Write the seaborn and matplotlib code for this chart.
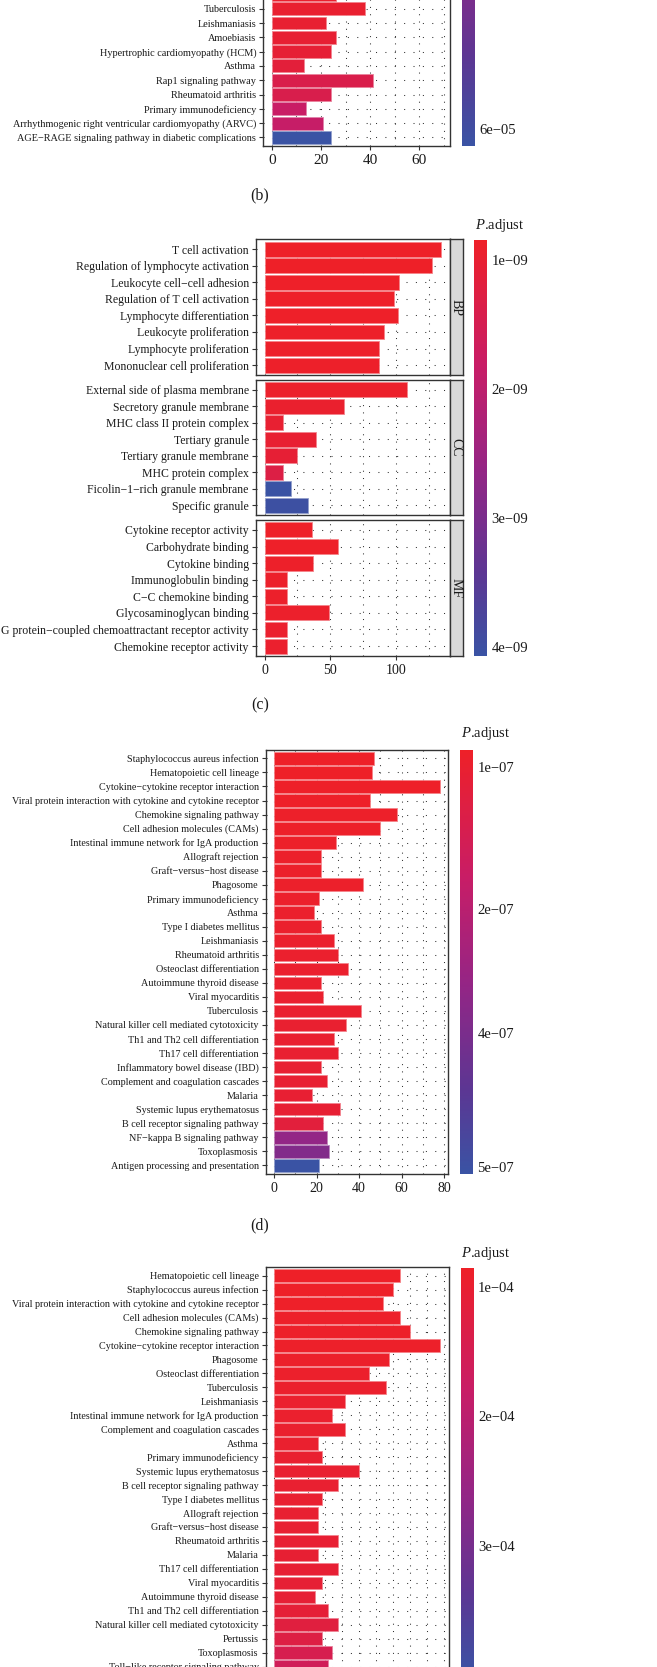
import numpy as np
import pandas as pd
import matplotlib
matplotlib.use("Agg")
import matplotlib.pyplot as plt
import seaborn as sns
from matplotlib.colors import LinearSegmentedColormap, Normalize, to_rgb
from matplotlib.ticker import MultipleLocator
import matplotlib.cm as cm

# ---------------- data ----------------
# panel (b) (top of panel clipped in the reference)
b_terms = ["Chemokine signaling pathway", "Tuberculosis", "Leishmaniasis", "Amoebiasis",
           "Hypertrophic cardiomyopathy (HCM)", "Asthma", "Rap1 signaling pathway",
           "Rheumatoid arthritis", "Primary immunodeficiency",
           "Arrhythmogenic right ventricular cardiomyopathy (ARVC)",
           "AGE\u2212RAGE signaling pathway in diabetic complications"]
b_counts = [26, 38, 22, 26, 24, 13, 41, 24, 14, 21, 24]
b_padj = [3.0e-6, 3.5e-6, 4.0e-6, 4.5e-6, 5.0e-6, 6.5e-6, 1.15e-5, 1.2e-5, 1.9e-5, 2.0e-5, 6.23e-5]
b_padj_limits = (1.0e-6, 6.23e-5)
b_count_max = 69
b_cbar_ticks = [6e-5]
b_cbar_labels = ["6e\u221205"]

# panel (c) GO enrichment
c_bp_terms = ["T cell activation", "Regulation of lymphocyte activation", "Leukocyte cell\u2212cell adhesion",
              "Regulation of T cell activation", "Lymphocyte differentiation", "Leukocyte proliferation",
              "Lymphocyte proliferation", "Mononuclear cell proliferation"]
c_bp_counts = [134, 127, 102, 98, 101, 91, 87, 87]
c_bp_padj = [8.45e-10, 8.5e-10, 8.6e-10, 8.7e-10, 8.7e-10, 8.8e-10, 8.9e-10, 8.9e-10]
c_cc_terms = ["External side of plasma membrane", "Secretory granule membrane", "MHC class II protein complex",
              "Tertiary granule", "Tertiary granule membrane", "MHC protein complex",
              "Ficolin\u22121\u2212rich granule membrane", "Specific granule"]
c_cc_counts = [108, 60, 14, 39, 25, 14, 20, 33]
c_cc_padj = [9.0e-10, 9.5e-10, 1.0e-9, 1.0e-9, 1.05e-9, 1.3e-9, 4.07e-9, 4.0e-9]
c_mf_terms = ["Cytokine receptor activity", "Carbohydrate binding", "Cytokine binding", "Immunoglobulin binding",
              "C\u2212C chemokine binding", "Glycosaminoglycan binding",
              "G protein\u2212coupled chemoattractant receptor activity", "Chemokine receptor activity"]
c_mf_counts = [36, 56, 37, 17, 17, 49, 17, 17]
c_mf_padj = [8.6e-10, 8.7e-10, 8.8e-10, 9.0e-10, 9.0e-10, 9.2e-10, 9.4e-10, 9.4e-10]
c_facets = ["BP", "CC", "MF"]
c_cbar_ticks = [1e-9, 2e-9, 3e-9, 4e-9]
c_cbar_labels = ["1e\u221209", "2e\u221209", "3e\u221209", "4e\u221209"]

# panel (d) KEGG enrichment
d_terms = ["Staphylococcus aureus infection", "Hematopoietic cell lineage",
           "Cytokine\u2212cytokine receptor interaction",
           "Viral protein interaction with cytokine and cytokine receptor", "Chemokine signaling pathway",
           "Cell adhesion molecules (CAMs)", "Intestinal immune network for IgA production",
           "Allograft rejection", "Graft\u2212versus\u2212host disease", "Phagosome", "Primary immunodeficiency",
           "Asthma", "Type I diabetes mellitus", "Leishmaniasis", "Rheumatoid arthritis",
           "Osteoclast differentiation", "Autoimmune thyroid disease", "Viral myocarditis", "Tuberculosis",
           "Natural killer cell mediated cytotoxicity", "Th1 and Th2 cell differentiation",
           "Th17 cell differentiation", "Inflammatory bowel disease (IBD)", "Complement and coagulation cascades",
           "Malaria", "Systemic lupus erythematosus", "B cell receptor signaling pathway",
           "NF\u2212kappa B signaling pathway", "Toxoplasmosis", "Antigen processing and presentation"]
d_counts = [47, 46, 78, 45, 58, 50, 29, 22, 22, 42, 21, 19, 22, 28, 30, 35, 22, 23, 41, 34,
            28, 30, 22, 25, 18, 31, 23, 25, 26, 21]
d_padj = [8.3e-8, 8.4e-8, 8.5e-8, 8.6e-8, 8.7e-8, 8.8e-8, 8.9e-8, 9.0e-8, 9.0e-8, 9.1e-8,
          9.2e-8, 9.3e-8, 9.3e-8, 9.4e-8, 9.5e-8, 9.6e-8, 9.7e-8, 9.8e-8, 9.9e-8, 1.0e-7,
          1.01e-7, 1.02e-7, 1.03e-7, 1.04e-7, 1.05e-7, 1.07e-7, 1.25e-7, 3.2e-7, 3.5e-7, 5.07e-7]
d_cbar_ticks = [1.0e-7, 1.72e-7, 2.42e-7, 3.13e-7, 3.66e-7, 5.0e-7]
d_cbar_labels = ["1e\u221207", "", "2e\u221207", "", "4e\u221207", "5e\u221207"]

# panel (e) (bottom of panel clipped in the reference)
e_terms = ["Hematopoietic cell lineage", "Staphylococcus aureus infection",
           "Viral protein interaction with cytokine and cytokine receptor", "Cell adhesion molecules (CAMs)",
           "Chemokine signaling pathway", "Cytokine\u2212cytokine receptor interaction", "Phagosome",
           "Osteoclast differentiation", "Tuberculosis", "Leishmaniasis",
           "Intestinal immune network for IgA production", "Complement and coagulation cascades", "Asthma",
           "Primary immunodeficiency", "Systemic lupus erythematosus", "B cell receptor signaling pathway",
           "Type I diabetes mellitus", "Allograft rejection", "Graft\u2212versus\u2212host disease",
           "Rheumatoid arthritis", "Malaria", "Th17 cell differentiation", "Viral myocarditis",
           "Autoimmune thyroid disease", "Th1 and Th2 cell differentiation",
           "Natural killer cell mediated cytotoxicity", "Pertussis", "Toxoplasmosis",
           "Toll\u2212like receptor signaling pathway"]
e_counts = [37, 35, 32, 37, 40, 49, 34, 28, 33, 21, 17, 21, 13, 14, 25, 19, 14, 13, 13, 19,
            13, 19, 14, 12, 16, 19, 14, 17, 16]
e_padj = [8.53e-5, 8.6e-5, 8.7e-5, 8.8e-5, 8.9e-5, 9.0e-5, 9.1e-5, 9.2e-5, 9.3e-5, 9.4e-5,
          9.5e-5, 9.6e-5, 9.7e-5, 9.8e-5, 9.9e-5, 1.0e-4, 1.0e-4, 1.01e-4, 1.01e-4, 1.02e-4,
          1.03e-4, 1.04e-4, 1.05e-4, 1.06e-4, 1.08e-4, 1.2e-4, 1.28e-4, 1.45e-4, 1.6e-4]
e_padj_limits = (8.53e-5, 4.0e-4)
e_cbar_ticks = [1e-4, 2e-4, 3e-4]
e_cbar_labels = ["1e\u221204", "2e\u221204", "3e\u221204"]

# ---------------- style ----------------
sns.set_theme(style="white")
plt.rcParams["font.family"] = ["Liberation Serif", "DejaVu Serif"]
plt.rcParams["mathtext.fontset"] = "custom"
plt.rcParams["mathtext.it"] = "Liberation Serif:italic"
plt.rcParams["mathtext.rm"] = "Liberation Serif"

CMAP = LinearSegmentedColormap.from_list(
    "padj", [(0.0, "#EE2028"), (0.3, "#C81D66"), (0.55, "#952585"), (0.8, "#5C3693"), (1.0, "#3A53A4")])
FRAME = "#333333"
TXT = "#1a1a1a"

W, H = 657, 1667
fig = plt.figure(figsize=(W / 100, H / 100), dpi=100)


def rect(x0, y0, x1, y1):
    return [x0 / W, 1 - y1 / H, (x1 - x0) / W, (y1 - y0) / H]


def lighten(c, f=0.45):
    r, g, b = to_rgb(c)
    return (r + (1 - r) * f, g + (1 - g) * f, b + (1 - b) * f)


def bar_panel(ax, terms, counts, padj, norm, xmax, major, minor, ysize, xsize,
              ylim=None, show_x=True):
    df = pd.DataFrame({"term": terms, "count": counts, "padj": padj})
    pal = {t: CMAP(norm(p)) for t, p in zip(terms, padj)}
    sns.barplot(data=df, x="count", y="term", hue="term", palette=pal, dodge=False,
                legend=False, width=0.9, saturation=1, orient="h", ax=ax)
    for p in ax.patches:
        p.set_edgecolor(lighten(p.get_facecolor()))
        p.set_linewidth(0.6)
    n = len(terms)
    ax.set_xlim(-0.05 * xmax, 1.05 * xmax)
    ax.set_ylim(ylim if ylim is not None else (n - 1 + 0.6, -0.6))
    ax.set_xlabel("")
    ax.set_ylabel("")
    ax.xaxis.set_major_locator(MultipleLocator(major))
    ax.xaxis.set_minor_locator(MultipleLocator(minor))
    ax.set_axisbelow(True)
    ax.grid(True, which="both", axis="x", linestyle=(0, (1, 6)), color="#333333", linewidth=0.75)
    ax.grid(True, which="major", axis="y", linestyle=(0, (1, 8)), color="#333333", linewidth=0.75)
    for s in ax.spines.values():
        s.set_color(FRAME)
        s.set_linewidth(1.0)
    ax.tick_params(axis="y", which="both", left=True, length=3, width=0.8, color=FRAME,
                   pad=2, labelsize=ysize, labelcolor=TXT)
    ax.tick_params(axis="x", which="minor", bottom=False)
    if show_x:
        ax.tick_params(axis="x", which="major", bottom=True, length=3, width=0.8, color=FRAME,
                       pad=3, labelsize=xsize, labelcolor=TXT)
    else:
        ax.tick_params(axis="x", which="major", bottom=False, labelbottom=False)


def colorbar(px, norm, ticks, labels, title_xy=None):
    cax = fig.add_axes(rect(*px))
    sm = cm.ScalarMappable(norm=norm, cmap=CMAP)
    cb = fig.colorbar(sm, cax=cax, orientation="vertical")
    cax.invert_yaxis()
    cb.outline.set_visible(False)
    cb.set_ticks(ticks)
    cb.set_ticklabels(labels)
    cb.minorticks_off()
    cax.tick_params(which="major", direction="in", color="white", length=3.5, width=0.9,
                    left=True, right=True, labelleft=False, labelright=True,
                    labelsize=10.5, labelcolor=TXT, pad=3)
    if title_xy is not None:
        fig.text(title_xy[0] / W, 1 - title_xy[1] / H, r"$P$.adjust", ha="left", va="center",
                 fontsize=10.5, color=TXT)


def panel_letter(txt, y):
    fig.text(260 / W, 1 - y / H, txt, ha="center", va="center", fontsize=11.5, color=TXT)


# ---------------- panel (b) ----------------
axb = fig.add_axes(rect(263.3, -300, 450, 146))
row_b = 14.3
n_b = len(b_terms)
b_ylim = (n_b - 1 + 0.6, n_b - 1 + 0.6 - (146 + 300) / row_b)
norm_b = Normalize(*b_padj_limits)
bar_panel(axb, b_terms, b_counts, b_padj, norm_b, b_count_max, 20, 10, 7.4, 11, ylim=b_ylim)
colorbar((462, -300, 475, 146), norm_b, b_cbar_ticks, b_cbar_labels)
panel_letter("(b)", 195)

# ---------------- panel (c) ----------------
norm_c = Normalize(min(c_bp_padj + c_cc_padj + c_mf_padj), max(c_bp_padj + c_cc_padj + c_mf_padj))
c_max = max(c_bp_counts + c_cc_counts + c_mf_counts)
c_rows = [(239.3, 375), (380, 515), (520, 656)]
c_data = [(c_bp_terms, c_bp_counts, c_bp_padj), (c_cc_terms, c_cc_counts, c_cc_padj),
          (c_mf_terms, c_mf_counts, c_mf_padj)]
for i, ((y0, y1), (t, cnt, pj), lab) in enumerate(zip(c_rows, c_data, c_facets)):
    ax = fig.add_axes(rect(255.7, y0, 450, y1))
    bar_panel(ax, t, cnt, pj, norm_c, c_max, 50, 25, 8.45, 10, show_x=(i == 2))
    sax = fig.add_axes(rect(450, y0, 462.7, y1))
    sax.set_facecolor("#D9D9D9")
    sax.set_xticks([])
    sax.set_yticks([])
    for s in sax.spines.values():
        s.set_color(FRAME)
        s.set_linewidth(1.0)
    sax.text(0.5, 0.5, lab, rotation=-90, ha="center", va="center", fontsize=10,
             color=TXT, transform=sax.transAxes)
colorbar((474, 240, 487.3, 656), norm_c, c_cbar_ticks, c_cbar_labels, title_xy=(475, 226))
panel_letter("(c)", 705)

# ---------------- panel (d) ----------------
axd = fig.add_axes(rect(265.7, 750, 448.3, 1173.7))
norm_d = Normalize(min(d_padj), max(d_padj))
bar_panel(axd, d_terms, d_counts, d_padj, norm_d, max(d_counts), 20, 10, 7.3, 10)
colorbar((460, 750, 473.3, 1174), norm_d, d_cbar_ticks, d_cbar_labels, title_xy=(461, 733))
panel_letter("(d)", 1225)

# ---------------- panel (e) ----------------
axe = fig.add_axes(rect(265.7, 1267.3, 448.6, 1675))
norm_e = Normalize(*e_padj_limits)
bar_panel(axe, e_terms, e_counts, e_padj, norm_e, max(e_counts), 10, 5, 7.3, 10)
colorbar((460.7, 1267.7, 474, 1675), norm_e, e_cbar_ticks, e_cbar_labels, title_xy=(461, 1254))

fig.savefig("out.png", dpi=100, facecolor="white")
